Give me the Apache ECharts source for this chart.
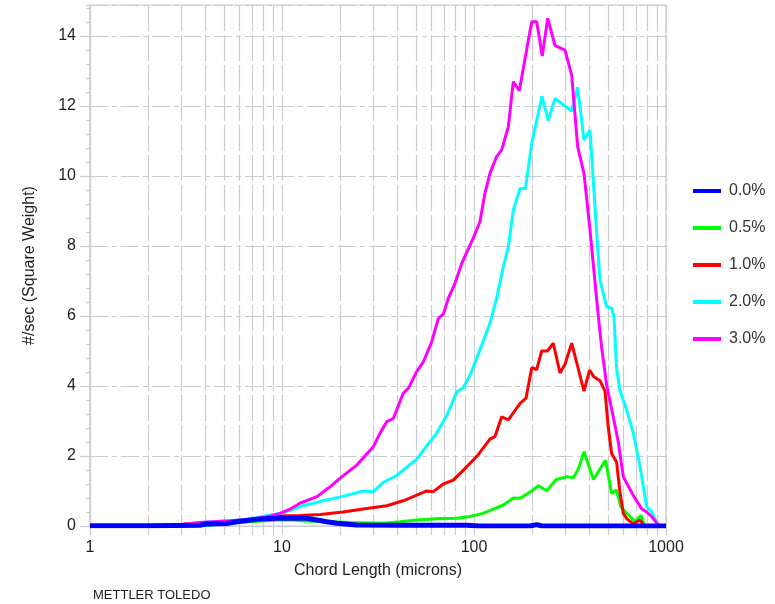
<!DOCTYPE html>
<html>
<head>
<meta charset="utf-8">
<script src="https://cdn.jsdelivr.net/npm/echarts@6/dist/echarts.min.js"></script>
<style>
  html, body { margin: 0; padding: 0; background: #ffffff; }
  #chart { width: 775px; height: 604px; }
</style>
</head>
<body>
<div id="chart"></div>
<script>
// Chord length distributions (#/sec, square weighted) for each concentration.
// Each entry: [chord length in microns, counts per second].
const seriesNames = ['0.0%', '0.5%', '1.0%', '2.0%', '3.0%'];

const pts00 = [
  [1.0, 0.01], [2.05, 0.01], [3.74, 0.02], [4.05, 0.06], [5.15, 0.07], [5.81, 0.12],
  [7.38, 0.19], [9.38, 0.22], [13.4, 0.22], [15.2, 0.17], [17.1, 0.12], [19.3, 0.08],
  [24.5, 0.03], [41.2, 0.02], [91.6, 0.02], [107, 0.0], [196, 0.0], [212, 0.04],
  [226, 0.0], [1000, 0.0]
];

const pts05 = [
  [3.05, 0.0], [4.22, 0.03], [5.36, 0.08], [6.81, 0.12], [9.38, 0.17], [11.4, 0.17],
  [12.9, 0.14], [17.8, 0.12], [22.6, 0.1], [33.6, 0.08], [41.2, 0.12], [50.3, 0.17],
  [63.9, 0.21], [81.3, 0.22], [95.3, 0.27], [111.4, 0.36], [126.1, 0.48], [142.2, 0.6],
  [160.2, 0.8], [173.8, 0.79], [199.8, 1.0], [216.2, 1.15], [239.1, 1.01], [267.4, 1.32],
  [304, 1.41], [328.9, 1.38], [349.4, 1.62], [374, 2.12], [419, 1.33], [484, 1.88],
  [521, 0.93], [551, 1.03], [583, 0.55], [624, 0.36], [649, 0.28], [690, 0.12],
  [741, 0.31], [768, 0.05]
];

const pts10 = [
  [3.05, 0.05], [5.36, 0.12], [7.68, 0.2], [10.1, 0.29], [12.4, 0.3], [15.8, 0.33],
  [20.8, 0.4], [27.6, 0.5], [35.1, 0.58], [42.8, 0.72], [48.3, 0.84], [56.7, 1.0],
  [61.4, 0.98], [69.2, 1.2], [78.0, 1.31], [91.6, 1.69], [105, 2.03], [121.1, 2.48],
  [128.5, 2.55], [139.4, 3.12], [151, 3.03], [173.8, 3.5], [186.6, 3.65], [199.8, 4.52],
  [212.1, 4.47], [225.3, 5.0], [241.5, 5.0], [258.8, 5.22], [280.5, 4.37], [297.9, 4.62],
  [322.7, 5.22], [374, 3.85], [399.7, 4.45], [421.7, 4.26], [453, 4.15], [481, 3.85],
  [500, 2.84], [521, 2.07], [553, 1.82], [575.4, 0.98], [599.3, 0.36], [626.5, 0.2],
  [676, 0.06], [733, 0.17], [762, 0.03]
];

const pts20 = [
  [3.12, 0.05], [3.74, 0.1], [5.36, 0.15], [6.81, 0.2], [7.68, 0.26], [10.2, 0.38],
  [12.9, 0.58], [16.4, 0.72], [20.5, 0.84], [26.5, 1.0], [29.9, 0.98], [33.7, 1.25],
  [39.6, 1.44], [44.6, 1.68], [50.3, 1.9], [57.8, 2.35], [62.6, 2.58], [72.1, 3.15],
  [81.3, 3.83], [87.9, 3.95], [95.3, 4.3], [107.4, 5.03], [121.1, 5.79], [131.2, 6.5],
  [142.2, 7.4], [151, 7.98], [160.2, 9.02], [173.8, 9.64], [185.4, 9.64], [199.8, 10.93],
  [226, 12.27], [243.6, 11.58], [264.3, 12.21], [322.7, 11.85], [346.8, 12.53], [374, 11.02],
  [402, 11.31], [435.6, 8.36], [453, 7.02], [491, 6.26], [521, 6.22], [536, 5.98],
  [553, 4.5], [575.4, 3.88], [624, 3.31], [676, 2.65], [732.8, 1.69], [793, 0.55],
  [842, 0.41], [895, 0.08], [931, 0.0]
];

const pts30 = [
  [3.05, 0.05], [3.74, 0.1], [5.36, 0.15], [6.41, 0.18], [7.68, 0.23], [8.66, 0.28],
  [9.77, 0.36], [11.0, 0.48], [12.4, 0.65], [15.2, 0.84], [17.8, 1.12], [20.0, 1.36],
  [24.5, 1.74], [29.9, 2.26], [32.4, 2.65], [35.1, 2.98], [38.0, 3.07], [42.8, 3.79],
  [45.5, 3.93], [50.3, 4.41], [54.5, 4.69], [60.2, 5.26], [65.2, 5.93], [69.2, 6.05],
  [73.5, 6.5], [79.6, 6.93], [86.3, 7.5], [99.1, 8.22], [107.4, 8.69], [114, 9.5],
  [121.1, 10.07], [131.2, 10.55], [139.4, 10.74], [150.9, 11.4], [160.2, 12.69], [172.2, 12.43],
  [199.8, 14.4], [212.1, 14.4], [226.8, 13.42], [242, 14.5], [264.3, 13.72], [297.9, 13.59],
  [322.7, 12.88], [346.8, 10.83], [374, 10.07], [402.1, 8.45], [435.6, 6.45], [462.5, 5.08],
  [491, 4.02], [531.2, 3.12], [564.2, 2.4], [599.3, 1.41], [624.3, 1.22], [676.1, 0.87],
  [747, 0.49], [793.1, 0.4], [841.9, 0.27], [894.7, 0.08], [934, 0.0]
];

const seriesPoints = [pts00, pts05, pts10, pts20, pts30];
const lineColors = ['#0000ff', '#00ff00', '#ff0000', '#00ffff', '#ff00ff'];
const lineWidths = [5, 3, 3, 3, 3];
const drawOrder = [6, 2, 3, 4, 5];

const gridColor = '#c9cdd2';
const textColor = '#1e1e1e';

const chart = echarts.init(document.getElementById('chart'), null, { renderer: 'canvas' });

chart.setOption({
  animation: false,
  backgroundColor: '#ffffff',
  grid: {
    left: 90, top: 5, width: 576, height: 521,
    show: true, borderColor: gridColor, borderWidth: 1.2, backgroundColor: 'transparent'
  },
  xAxis: {
    type: 'log',
    logBase: 10,
    min: 1,
    max: 1000,
    name: 'Chord Length (microns)',
    nameLocation: 'middle',
    nameGap: 37,
    nameTextStyle: { fontFamily: 'Liberation Sans', fontSize: 16, color: textColor },
    axisLine: { show: true, lineStyle: { color: gridColor, width: 1.2 } },
    axisTick: { show: true, length: 9, lineStyle: { color: gridColor, width: 1.2 } },
    minorTick: { show: true, splitNumber: 9, length: 9, lineStyle: { color: gridColor, width: 1.2 } },
    axisLabel: {
      fontFamily: 'Liberation Sans', fontSize: 16, color: textColor, margin: 14,
      formatter: (v) => String(Math.round(v))
    },
    splitLine: { show: true, lineStyle: { color: gridColor, width: 1.2, type: [26, 4] } },
    minorSplitLine: { show: true, lineStyle: { color: gridColor, width: 1.2, type: [26, 4] } }
  },
  yAxis: [
    {
      type: 'value',
      min: 0,
      max: 14.88,
      interval: 2,
      name: '#/sec (Square Weight)',
      nameLocation: 'middle',
      nameGap: 52,
      nameTextStyle: { fontFamily: 'Liberation Sans', fontSize: 16, color: textColor },
      axisLine: { show: true, lineStyle: { color: gridColor, width: 1.2 } },
      axisTick: { show: true, length: 10, lineStyle: { color: gridColor, width: 1.2 } },
      axisLabel: { fontFamily: 'Liberation Sans', fontSize: 16, color: textColor, margin: 14, showMaxLabel: false },
      splitLine: { show: true, lineStyle: { color: gridColor, width: 1.2, type: [18, 4, 5, 4] } }
    },
    {
      type: 'value',
      min: 0,
      max: 14.88,
      interval: 0.4,
      position: 'left',
      axisLine: { show: false },
      axisTick: { show: true, length: 4, lineStyle: { color: gridColor, width: 1.2 } },
      axisLabel: { show: false },
      splitLine: { show: false }
    }
  ],
  legend: {
    orient: 'vertical',
    left: 688,
    top: 178,
    icon: 'rect',
    itemWidth: 28,
    itemHeight: 4,
    itemGap: 21,
    data: seriesNames,
    textStyle: { fontFamily: 'Liberation Sans', fontSize: 16, color: '#333333', padding: [0, 0, 0, 3] }
  },
  series: seriesNames.map((name, i) => ({
    name: name,
    type: 'line',
    data: seriesPoints[i],
    xAxisIndex: 0,
    yAxisIndex: 0,
    symbol: 'none',
    z: drawOrder[i],
    lineStyle: { color: lineColors[i], width: lineWidths[i] },
    itemStyle: { color: lineColors[i] }
  })),
  graphic: [
    {
      type: 'text',
      left: 93,
      top: 589,
      style: { text: 'METTLER TOLEDO', fontFamily: 'Liberation Sans', fontSize: 13, fill: '#222222' }
    }
  ]
});
</script>
</body>
</html>
